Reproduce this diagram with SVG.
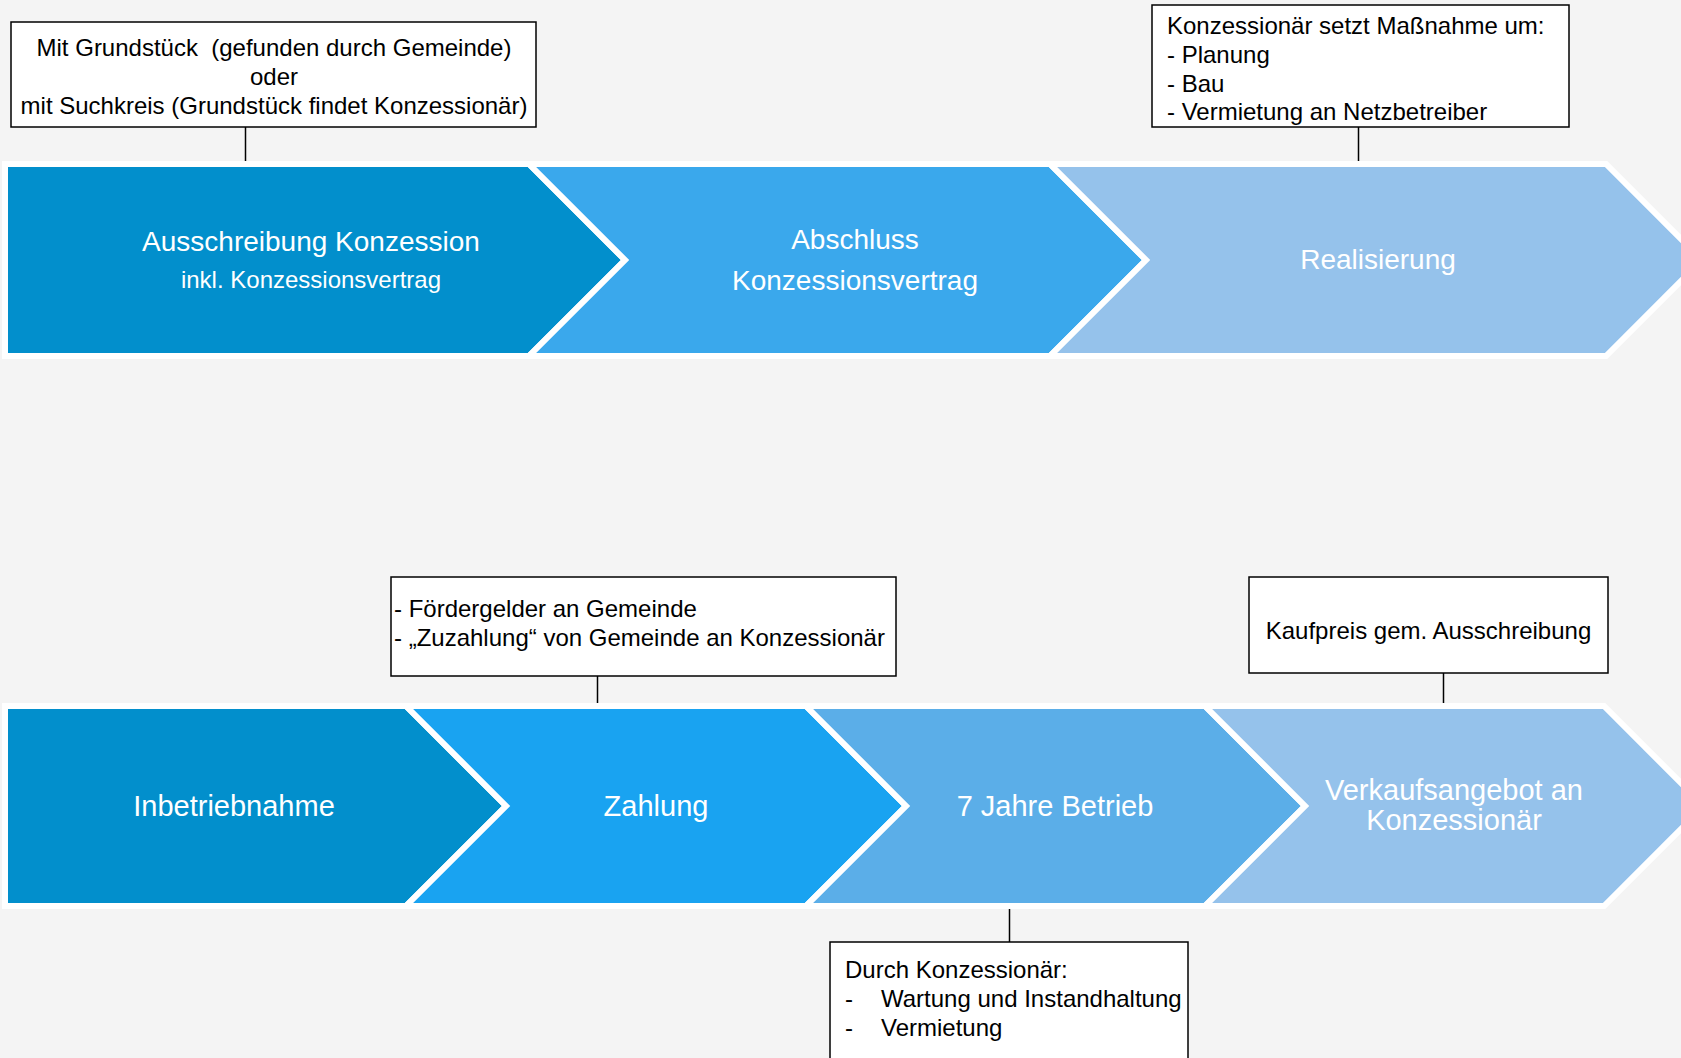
<svg xmlns="http://www.w3.org/2000/svg" width="1681" height="1058" viewBox="0 0 1681 1058">
<style>
.bg{fill:#f4f4f4}
.chev{stroke:#ffffff;stroke-width:6;stroke-linejoin:miter}
.c1{fill:#028fcc}
.c2{fill:#3aa8ec}
.c3{fill:#95c2eb}
.c4{fill:#19a3f1}
.c5{fill:#5baee8}
.box{fill:#ffffff;stroke:#000000;stroke-width:1.5}
.lbl{font-family:"Liberation Sans",Arial,sans-serif;fill:#ffffff;text-anchor:middle}
.l28{font-size:28px}
.l29{font-size:29px}
.l24{font-size:24px}
.ct{font-family:"Liberation Sans",Arial,sans-serif;font-size:24px;fill:#000000}
.mid{text-anchor:middle}
.conn line{stroke:#000000;stroke-width:1.5}
</style>
<rect class="bg" x="0" y="0" width="1681" height="1058"/>

<g id="connectors" class="conn">
  <line x1="245.5" y1="127" x2="245.5" y2="162"/>
  <line x1="1358.5" y1="127" x2="1358.5" y2="162"/>
  <line x1="597.5" y1="676" x2="597.5" y2="704"/>
  <line x1="1443.5" y1="673" x2="1443.5" y2="704"/>
  <line x1="1009.5" y1="908" x2="1009.5" y2="942"/>
</g>

<g id="step-ausschreibung">
  <polygon class="chev c1" points="5,164 529,164 625,260 529,356 5,356"/>
  <text class="lbl l28" x="311" y="251">Ausschreibung Konzession</text>
  <text class="lbl l24" x="311" y="288">inkl. Konzessionsvertrag</text>
</g>
<g id="step-abschluss">
  <polygon class="chev c2" points="529,164 1050,164 1146,260 1050,356 529,356 625,260"/>
  <text class="lbl l28" x="855" y="249">Abschluss</text>
  <text class="lbl l28" x="855" y="290">Konzessionsvertrag</text>
</g>
<g id="step-realisierung">
  <polygon class="chev c3" points="1050,164 1606,164 1702,260 1606,356 1050,356 1146,260"/>
  <text class="lbl l28" x="1378" y="269">Realisierung</text>
</g>

<g id="step-inbetriebnahme">
  <polygon class="chev c1" points="5,706 406,706 506,806 406,906 5,906"/>
  <text class="lbl l29" x="234" y="816">Inbetriebnahme</text>
</g>
<g id="step-zahlung">
  <polygon class="chev c4" points="406,706 806,706 906,806 806,906 406,906 506,806"/>
  <text class="lbl l29" x="656" y="816">Zahlung</text>
</g>
<g id="step-betrieb">
  <polygon class="chev c5" points="806,706 1205,706 1305,806 1205,906 806,906 906,806"/>
  <text class="lbl l29" x="1055" y="816">7 Jahre Betrieb</text>
</g>
<g id="step-verkauf">
  <polygon class="chev c3" points="1205,706 1604,706 1704,806 1604,906 1205,906 1305,806"/>
  <text class="lbl l29" x="1454" y="800">Verkaufsangebot an</text>
  <text class="lbl l29" x="1454" y="830">Konzessionär</text>
</g>

<g id="note-grundstueck">
  <rect class="box" x="11" y="22" width="525" height="105"/>
  <text class="ct mid" x="274" y="56" xml:space="preserve">Mit Grundstück  (gefunden durch Gemeinde)</text>
  <text class="ct mid" x="274" y="85">oder</text>
  <text class="ct mid" x="274" y="114">mit Suchkreis (Grundstück findet Konzessionär)</text>
</g>
<g id="note-massnahme">
  <rect class="box" x="1152" y="5" width="417" height="122"/>
  <text class="ct" x="1167" y="34">Konzessionär setzt Maßnahme um:</text>
  <text class="ct" x="1167" y="63">- Planung</text>
  <text class="ct" x="1167" y="92">- Bau</text>
  <text class="ct" x="1167" y="120">- Vermietung an Netzbetreiber</text>
</g>
<g id="note-zahlung">
  <rect class="box" x="391" y="577" width="505" height="99"/>
  <text class="ct" x="394" y="617">- Fördergelder an Gemeinde</text>
  <text class="ct" x="394" y="646">- „Zuzahlung“ von Gemeinde an Konzessionär</text>
</g>
<g id="note-kaufpreis">
  <rect class="box" x="1249" y="577" width="359" height="96"/>
  <text class="ct mid" x="1428.5" y="639">Kaufpreis gem. Ausschreibung</text>
</g>
<g id="note-betrieb">
  <rect class="box" x="830" y="942" width="358" height="130"/>
  <text class="ct" x="845" y="978">Durch Konzessionär:</text>
  <text class="ct" x="845" y="1007">-</text>
  <text class="ct" x="881" y="1007">Wartung und Instandhaltung</text>
  <text class="ct" x="845" y="1036">-</text>
  <text class="ct" x="881" y="1036">Vermietung</text>
</g>
</svg>
